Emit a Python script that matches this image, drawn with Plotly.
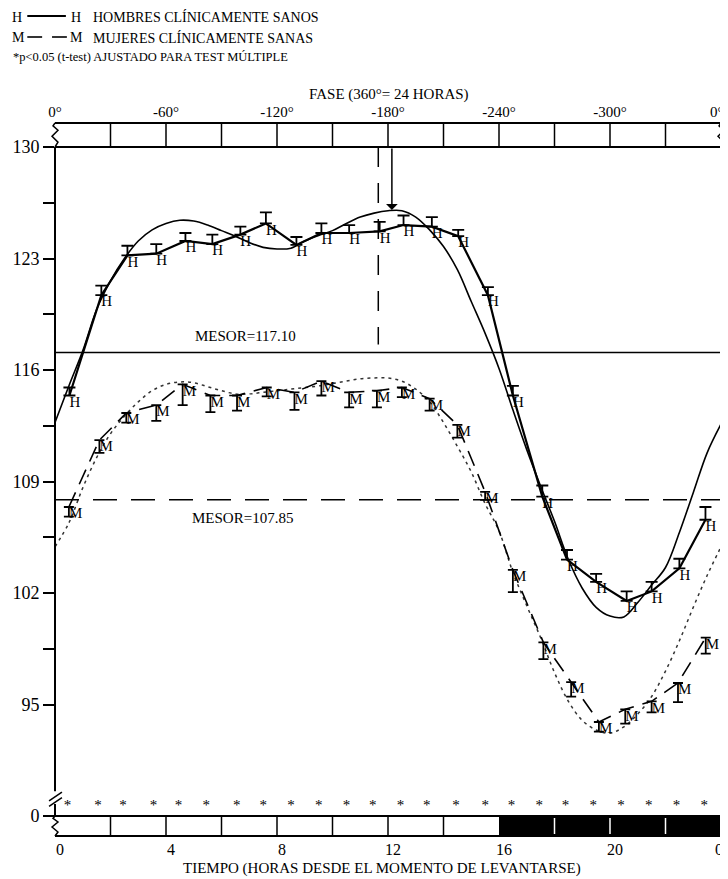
import plotly.graph_objects as go

# ---------------- data ----------------
# Men (H): hourly means, upper SE
men_t = [0.52, 1.67, 2.61, 3.65, 4.70, 5.67, 6.68, 7.60, 8.70, 9.60, 10.60, 11.70,
         12.56, 13.58, 14.53, 15.60, 16.50, 17.56, 18.45, 19.50, 20.60, 21.50, 22.50, 23.44]
men_bp = [114.4, 120.7, 123.2, 123.3, 124.1, 123.9, 124.5, 125.2, 123.85, 124.6, 124.6, 124.7,
          125.1, 125.0, 124.4, 120.7, 114.4, 108.05, 104.1, 102.7, 101.5, 102.1, 103.55, 106.6]
men_se = [0.5, 0.6, 0.6, 0.6, 0.5, 0.6, 0.5, 0.7, 0.5, 0.6, 0.5, 0.6,
          0.6, 0.6, 0.4, 0.5, 0.6, 0.7, 0.6, 0.5, 0.6, 0.6, 0.6, 0.8]

# Women (M): hourly means, lower SE
women_t = [0.50, 1.60, 2.57, 3.65, 4.60, 5.60, 6.56, 7.63, 8.63, 9.60, 10.60, 11.60,
           12.50, 13.50, 14.50, 15.50, 16.50, 17.60, 18.60, 19.60, 20.55, 21.50, 22.45, 23.45]
women_bp = [107.4, 111.6, 113.3, 113.8, 115.1, 114.4, 114.4, 114.9, 114.6, 115.3, 114.6, 114.7,
            114.9, 114.2, 112.55, 108.35, 103.45, 98.9, 96.4, 93.9, 94.7, 95.2, 96.35, 99.2]
women_se = [0.6, 0.8, 0.6, 1.0, 1.3, 1.05, 0.95, 0.55, 1.1, 0.9, 0.95, 1.05,
            0.6, 0.75, 0.8, 0.5, 1.4, 1.05, 0.9, 0.6, 0.9, 0.7, 1.2, 1.0]

# Fitted (cosinor) curves, read every half hour
fit_t = [0, 0.5, 1, 1.5, 2, 2.5, 3, 3.5, 4, 4.5, 5, 5.5, 6, 6.5, 7, 7.5, 8, 8.5, 9, 9.5,
         10, 10.5, 11, 11.5, 12, 12.5, 13, 13.5, 14, 14.5, 15, 15.5, 16, 16.5, 17, 17.5,
         18, 18.5, 19, 19.5, 20, 20.5, 21, 21.5, 22, 22.5, 23, 23.5, 24]
men_fit = [112.7, 115.0, 117.2, 119.8, 121.6, 123.0, 124.1, 124.8, 125.2, 125.4, 125.35, 125.1,
           124.75, 124.4, 124.0, 123.7, 123.6, 123.65, 124.1, 124.45, 124.75, 125.2, 125.6, 125.85,
           126.0, 126.0, 125.6, 124.8, 123.75, 122.3, 120.3, 118.3, 116.1, 113.5, 111.0, 108.7,
           106.5, 104.1, 102.3, 101.1, 100.55, 100.5, 101.4, 102.5, 103.6, 105.8, 108.3, 110.8, 112.6]
women_fit = [104.9, 106.4, 108.6, 110.5, 112.0, 113.1, 114.0, 114.7, 115.1, 115.25, 115.2, 114.95,
             114.7, 114.5, 114.5, 114.6, 114.7, 114.8, 114.9, 115.0, 115.15, 115.3, 115.45, 115.5,
             115.5, 115.3, 114.8, 114.0, 112.7, 111.2, 109.6, 107.6, 105.9, 103.3, 101.2, 99.2,
             97.0, 95.2, 94.0, 93.4, 93.2, 93.6, 94.4, 95.5, 97.1, 99.0, 101.1, 103.1, 104.9]

mesor_men = 117.10
mesor_women = 107.85
acrophase_men_h = 12.14
acrophase_women_h = 11.65
star_t = [0.45, 1.55, 2.45, 3.55, 4.45, 5.45, 6.55, 7.5, 8.5, 9.5, 10.5, 11.45,
          12.45, 13.4, 14.45, 15.5, 16.45, 17.45, 18.4, 19.4, 20.4, 21.4, 22.4, 23.4]

x_ticks = [0, 4, 8, 12, 16, 20, 23.75]
x_ticktext = ["0", "4", "8", "12", "16", "20", "0"]
phase_ticks = [0, 4, 8, 12, 16, 20, 23.85]
phase_ticktext = ["0°", "-60°", "-120°", "-180°", "-240°", "-300°", "0°"]
y_ticks = [88, 95, 98.5, 102, 105.5, 109, 112.5, 116, 119.5, 123, 126.5, 130]
y_ticktext = ["0", "95", "", "102", "", "109", "", "116", "", "123", "", "130"]

# ---------------- layout helpers ----------------
# the page body adds an 8px margin, so the figure is smaller and offset by 8px
OFF = 8
W, H = 720, 871
ML, MR, MT, MB = 43, 4, 139, 63
PW = W - ML - MR            # 673 px for 24 h
PH = H - MT - MB            # 669 px for 42 units
SX0 = OFF + ML              # screen x of plot left (51)
SY1 = OFF + H - MB          # screen y of plot bottom (816)
FONT = "Liberation Serif, Times New Roman, serif"


def px(x):
    return (x - SX0) / PW


def py(y):
    return (SY1 - y) / PH


def squiggle(xp, y0p, y1p):
    h = y1p - y0p
    pts = [(xp, y0p), (xp + 3, y0p + h * 0.2), (xp - 3, y0p + h * 0.45),
           (xp + 3, y0p + h * 0.7), (xp - 2, y0p + h * 0.88), (xp, y1p)]
    s = "M " + " L ".join(f"{px(a):.5f},{py(b):.5f}" for a, b in pts)
    return dict(type="path", xref="paper", yref="paper", path=s,
                line=dict(color="black", width=1.5))


fig = go.Figure()

# fitted curves
fig.add_trace(go.Scatter(x=fit_t, y=men_fit, mode="lines",
                         line=dict(color="black", width=1.6, shape="spline"),
                         hoverinfo="skip", showlegend=False))
fig.add_trace(go.Scatter(x=fit_t, y=women_fit, mode="lines",
                         line=dict(color="#333333", width=1.5, shape="spline", dash="3px,4px"),
                         hoverinfo="skip", showlegend=False))

# data series
fig.add_trace(go.Scatter(x=men_t, y=men_bp, mode="lines+text", text=["H"] * len(men_t),
                         textposition="bottom right",
                         textfont=dict(family=FONT, size=15, color="black"),
                         line=dict(color="black", width=2.2),
                         error_y=dict(type="data", symmetric=False, array=men_se,
                                      arrayminus=[0] * len(men_t), width=6, thickness=1.8,
                                      color="black"),
                         showlegend=False))
fig.add_trace(go.Scatter(x=women_t, y=women_bp, mode="lines+text", text=["M"] * len(women_t),
                         textposition="bottom right",
                         textfont=dict(family=FONT, size=15, color="black"),
                         line=dict(color="black", width=1.6, dash="16px,9px"),
                         error_y=dict(type="data", symmetric=False, array=[0] * len(women_t),
                                      arrayminus=women_se, width=5, thickness=1.8,
                                      color="black"),
                         showlegend=False))

# acrophase dashed vertical
fig.add_trace(go.Scatter(x=[acrophase_women_h, acrophase_women_h], y=[130, 117.6], mode="lines",
                         line=dict(color="black", width=1.5, dash="20px,16px"),
                         hoverinfo="skip", showlegend=False))

# significance stars
fig.add_trace(go.Scatter(x=star_t, y=[88.63] * len(star_t), mode="text", text=["*"] * len(star_t),
                         textfont=dict(family=FONT, size=15, color="black"),
                         hoverinfo="skip", showlegend=False))

# dummy trace for the top (phase) axis
fig.add_trace(go.Scatter(x=[0, 24], y=[None, None], xaxis="x2", mode="lines",
                         showlegend=False, hoverinfo="skip"))

shapes = []
# MESOR lines
shapes.append(dict(type="line", xref="paper", yref="y", x0=0, x1=1, y0=mesor_men, y1=mesor_men,
                   line=dict(color="black", width=1.6)))
shapes.append(dict(type="line", xref="paper", yref="y", x0=0, x1=1, y0=mesor_women, y1=mesor_women,
                   line=dict(color="black", width=1.5, dash="24px,14px")))

# y axis line with break
shapes.append(dict(type="line", xref="paper", yref="y", x0=0, x1=0, y0=89.55, y1=130,
                   line=dict(color="black", width=2)))
shapes.append(dict(type="line", xref="paper", yref="y", x0=0, x1=0, y0=88, y1=88.75,
                   line=dict(color="black", width=2)))
for yb in (88.6, 88.95):
    shapes.append(dict(type="line", xref="paper", yref="y", x0=px(45), x1=px(58),
                       y0=yb, y1=yb + 0.55, line=dict(color="black", width=1.5)))

# top phase bar
for yy in (123, 147):
    shapes.append(dict(type="line", xref="paper", yref="paper", x0=0, x1=1,
                       y0=py(yy), y1=py(yy), line=dict(color="black", width=2)))
for t in range(2, 24, 2):
    shapes.append(dict(type="line", xref="x", yref="paper", x0=t, x1=t,
                       y0=py(147), y1=py(123), line=dict(color="black", width=1.5)))
shapes.append(squiggle(51, 147, 123))
shapes.append(squiggle(724, 147, 123))

# bottom light/dark bar
shapes.append(dict(type="rect", xref="x", yref="paper", x0=16, x1=24, y0=py(836), y1=py(816),
                   fillcolor="black", line=dict(width=0)))
for yy in (816, 836):
    shapes.append(dict(type="line", xref="paper", yref="paper", x0=0, x1=1,
                       y0=py(yy), y1=py(yy), line=dict(color="black", width=2)))
for t in range(2, 16, 2):
    shapes.append(dict(type="line", xref="x", yref="paper", x0=t, x1=t,
                       y0=py(836), y1=py(816), line=dict(color="black", width=1.5)))
for t in (18, 20, 22):
    shapes.append(dict(type="line", xref="x", yref="paper", x0=t, x1=t,
                       y0=py(834), y1=py(818), line=dict(color="white", width=1.5)))
shapes.append(squiggle(51, 836, 816))
shapes.append(squiggle(724, 836, 816))

annotations = []
# MESOR labels
annotations.append(dict(x=6.85, y=118.15, xref="x", yref="y", text="MESOR=117.10",
                        showarrow=False, xanchor="center", yanchor="middle",
                        font=dict(family=FONT, size=15, color="black")))
annotations.append(dict(x=6.75, y=106.7, xref="x", yref="y", text="MESOR=107.85",
                        showarrow=False, xanchor="center", yanchor="middle",
                        font=dict(family=FONT, size=15, color="black")))
# acrophase arrow (men)
annotations.append(dict(x=acrophase_men_h, y=126.05, xref="x", yref="y",
                        ax=acrophase_men_h, ay=130, axref="x", ayref="y",
                        showarrow=True, arrowhead=1, arrowsize=1.3, arrowwidth=1.5,
                        arrowcolor="black", text=""))

# axis titles
annotations.append(dict(x=px(389), y=py(95), xref="paper", yref="paper",
                        text="FASE (360°= 24 HORAS)", showarrow=False,
                        xanchor="center", yanchor="middle",
                        font=dict(family=FONT, size=15, color="black")))
annotations.append(dict(x=px(381), y=py(868), xref="paper", yref="paper",
                        text="TIEMPO (HORAS DESDE EL MOMENTO DE LEVANTARSE)", showarrow=False,
                        xanchor="center", yanchor="middle",
                        font=dict(family=FONT, size=15, color="black")))

# legend block
LF = dict(family=FONT, size=14, color="black")
for txt, xx, yy in [("H", 13, 17), ("H", 72, 17), ("HOMBRES CLÍNICAMENTE SANOS", 87, 17),
                    ("M", 14, 38), ("M", 73, 38), ("MUJERES CLÍNICAMENTE SANAS", 87, 38)]:
    annotations.append(dict(x=px(xx), y=py(yy), xref="paper", yref="paper", text=txt,
                            showarrow=False, xanchor="center" if len(txt) == 1 else "left",
                            yanchor="middle", font=LF))
annotations.append(dict(x=px(7), y=py(57), xref="paper", yref="paper",
                        text="*p<0.05 (t-test) AJUSTADO PARA TEST MÚLTIPLE", showarrow=False,
                        xanchor="left", yanchor="middle",
                        font=dict(family=FONT, size=12.5, color="black")))
shapes.append(dict(type="line", xref="paper", yref="paper", x0=px(23), x1=px(62),
                   y0=py(16), y1=py(16), line=dict(color="black", width=1.8)))
shapes.append(dict(type="line", xref="paper", yref="paper", x0=px(23), x1=px(38),
                   y0=py(37), y1=py(37), line=dict(color="black", width=1.6)))
shapes.append(dict(type="line", xref="paper", yref="paper", x0=px(48), x1=px(63),
                   y0=py(37), y1=py(37), line=dict(color="black", width=1.6)))

fig.update_layout(
    width=W, height=H,
    margin=dict(l=ML, r=MR, t=MT, b=MB, pad=0),
    paper_bgcolor="white", plot_bgcolor="white",
    showlegend=False,
    font=dict(family=FONT, size=16, color="black"),
    shapes=shapes, annotations=annotations,
    xaxis=dict(range=[0, 24], showgrid=False, zeroline=False, showline=False,
               tickvals=x_ticks, ticktext=x_ticktext, ticks="",
               ticklabelstandoff=22, ticklabelshift=5, ticklabeloverflow="allow",
               tickfont=dict(family=FONT, size=16, color="black"),
               fixedrange=True),
    xaxis2=dict(range=[0, 24], overlaying="x", side="top", showgrid=False, zeroline=False,
                showline=False, tickvals=phase_ticks, ticktext=phase_ticktext, ticks="",
                ticklabelstandoff=26, ticklabeloverflow="allow",
                tickfont=dict(family=FONT, size=15, color="black"),
                fixedrange=True),
    yaxis=dict(range=[88, 130], showgrid=False, zeroline=False, showline=False,
               tickvals=y_ticks, ticktext=y_ticktext, ticks="outside", ticklen=11,
               tickwidth=1.5, tickcolor="black",
               tickfont=dict(family=FONT, size=18, color="black"), fixedrange=True),
)

fig.write_html("out.html")
